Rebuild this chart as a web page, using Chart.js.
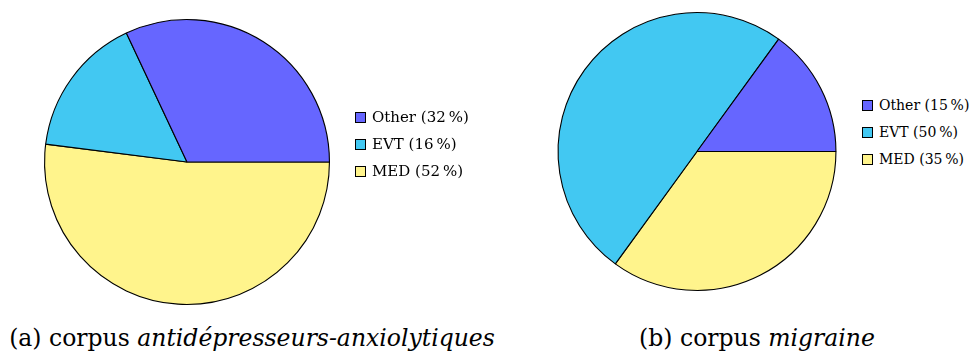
<!DOCTYPE html>
<html>
<head>
<meta charset="utf-8">
<script src="https://cdn.jsdelivr.net/npm/chart.js@4"></script>
<style>
  html, body { margin: 0; padding: 0; background: #fff; }
  body { width: 971px; height: 353px; position: relative; overflow: hidden;
         font-family: "DejaVu Serif", "Liberation Serif", serif; color: #000; }
  canvas { position: absolute; }
  .legend { position: absolute; font-size: 15px; line-height: 15px; }
  .legend .row { display: flex; align-items: center; height: 15px; margin-bottom: 12px; white-space: nowrap; }
  .legend.small { font-size: 14px; line-height: 14px; }
  .legend.small .row { height: 14px; margin-bottom: 13px; }
  .legend .sw { width: 9px; height: 9px; border: 1px solid #000; margin-right: 6px; flex: none; }
  .caption { position: absolute; font-size: 23.5px; line-height: 1; white-space: nowrap; transform: translateX(-50%); }
</style>
</head>
<body>
<canvas id="pieA" width="374" height="324" style="left:0;top:0"></canvas>
<canvas id="pieB" width="320" height="304" style="left:537px;top:0"></canvas>
<div class="legend" id="legA" style="left:355px;top:110px"></div>
<div class="legend small" id="legB" style="left:862px;top:98px"></div>
<div class="caption" style="left:252px;top:327px">(a) corpus <i>antidépresseurs-anxiolytiques</i></div>
<div class="caption" style="left:757px;top:327px">(b) corpus <i>migraine</i></div>
<script>
// Categories in legend order, and their shares (%) for each corpus
const categories = ['Other', 'EVT', 'MED'];
const sharesAntidep = [32, 16, 52];
const sharesMigraine = [15, 50, 35];
const sliceColors = ['#6666ff', '#42c8f2', '#fff48c'];

// Slices run counter-clockwise from 3 o'clock; Chart.js draws clockwise,
// so the series is handed over in reverse order starting at rotation 90.
function makePie(canvasId, shares, padding) {
  const rev = a => a.slice().reverse();
  return new Chart(document.getElementById(canvasId), {
    type: 'pie',
    data: {
      labels: rev(categories),
      datasets: [{
        data: rev(shares),
        backgroundColor: rev(sliceColors),
        borderColor: '#000',
        borderWidth: 1.1,
        hoverOffset: 0
      }]
    },
    options: {
      responsive: false,
      animation: false,
      rotation: 90,
      layout: { padding },
      plugins: { legend: { display: false }, tooltip: { enabled: false } },
      events: []
    }
  });
}

function makeLegend(elId, shares) {
  const el = document.getElementById(elId);
  categories.forEach((name, i) => {
    const row = document.createElement('div');
    row.className = 'row';
    const sw = document.createElement('span');
    sw.className = 'sw';
    sw.style.background = sliceColors[i];
    const txt = document.createElement('span');
    txt.textContent = name + ' (' + shares[i] + '\u2009%)';
    row.appendChild(sw);
    row.appendChild(txt);
    el.appendChild(row);
  });
}

makePie('pieA', sharesAntidep, { top: 19, bottom: 19, left: 0, right: 0 });
makePie('pieB', sharesMigraine, { top: 12, bottom: 13, left: 0, right: 0 });
makeLegend('legA', sharesAntidep);
makeLegend('legB', sharesMigraine);
</script>
</body>
</html>
